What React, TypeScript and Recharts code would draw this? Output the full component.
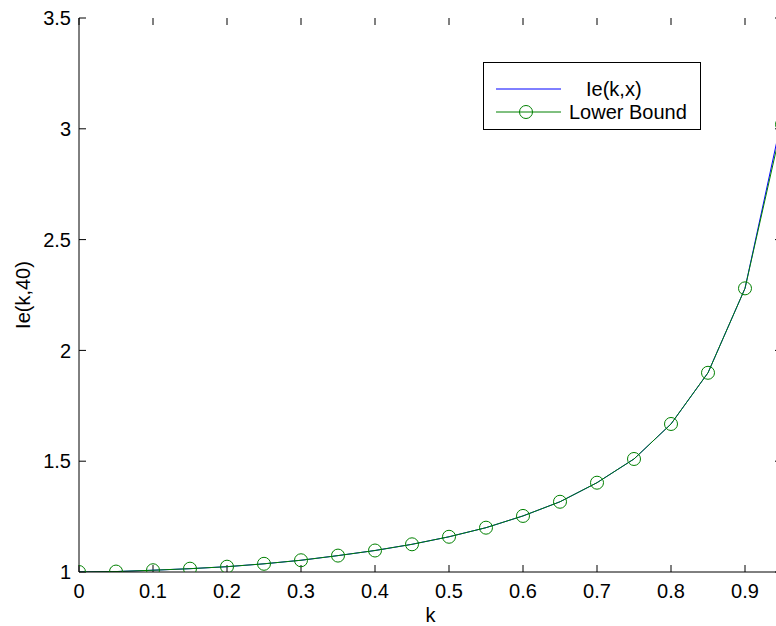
import { LineChart, Line, XAxis, YAxis, Legend, ReferenceLine } from 'recharts'

const kValues = [0, 0.05, 0.1, 0.15, 0.2, 0.25, 0.3, 0.35, 0.4, 0.45, 0.5, 0.55, 0.6, 0.65, 0.7, 0.75, 0.8, 0.85, 0.9, 0.95]
const ieValues = [1.0, 1.002, 1.008, 1.015, 1.024, 1.037, 1.053, 1.074, 1.097, 1.125, 1.159, 1.2, 1.253, 1.317, 1.403, 1.51, 1.668, 1.899, 2.28, 3.05]
const lowerBound = [1.0, 1.002, 1.008, 1.015, 1.024, 1.037, 1.053, 1.074, 1.097, 1.125, 1.159, 1.2, 1.253, 1.317, 1.403, 1.51, 1.668, 1.899, 2.28, 3.02]
const xTicks = [0, 0.1, 0.2, 0.3, 0.4, 0.5, 0.6, 0.7, 0.8, 0.9]
const yTicks = [1, 1.5, 2, 2.5, 3, 3.5]

const data = kValues.map((k, i) => ({ k, ie: ieValues[i], lb: lowerBound[i] }))

const FONT = '"Liberation Sans", Arial, Helvetica, sans-serif'
const BLUE = '#0000ff'
const GREEN = '#008000'

const X_MIN = 0
const X_MAX = 0.95
const Y_MIN = 1
const Y_MAX = 3.5
// plot box is 703 x 554 px; MATLAB-style inward tick marks ~7 px long
const xTickLen = (7 * (X_MAX - X_MIN)) / 703
const yTickLen = (7 * (Y_MAX - Y_MIN)) / 554

// eslint-disable-next-line @typescript-eslint/no-explicit-any
function BottomTick({ x, y, payload }: any) {
  return (
    <text x={x} y={y} dy={14} textAnchor="middle" fontSize={20} fontFamily={FONT} fill="#000">
      {String(payload.value)}
    </text>
  )
}

// eslint-disable-next-line @typescript-eslint/no-explicit-any
function LeftTick({ x, y, payload }: any) {
  return (
    <text x={x} y={y} dy="0.355em" textAnchor="end" fontSize={20} fontFamily={FONT} fill="#000">
      {String(payload.value)}
    </text>
  )
}

function LegendBox() {
  return (
    <div style={{ border: '1px solid #000', background: '#fff', width: 216, height: 66 }}>
      <svg width={216} height={66} style={{ display: 'block' }}>
        <line x1={12} y1={26} x2={77} y2={26} stroke={BLUE} strokeWidth={1} />
        <text x={102} y={33} fontSize={20} fontFamily={FONT} fill="#000">Ie(k,x)</text>
        <line x1={12} y1={49} x2={77} y2={49} stroke={GREEN} strokeWidth={1} />
        <circle cx={42} cy={49} r={6.5} fill="none" stroke={GREEN} strokeWidth={1} />
        <text x={85} y={56} fontSize={20} fontFamily={FONT} fill="#000">Lower Bound</text>
      </svg>
    </div>
  )
}

// eslint-disable-next-line @typescript-eslint/no-explicit-any
function YLabel({ viewBox }: any) {
  const cy = viewBox.y + viewBox.height / 2
  const x = viewBox.x + 22
  return (
    <text x={x} y={cy} transform={`rotate(-90, ${x}, ${cy})`} textAnchor="middle" fontSize={20} fontFamily={FONT} fill="#000">
      Ie(k,40)
    </text>
  )
}

export default function App() {
  return (
    <div style={{ position: 'fixed', left: 0, top: 0, width: 776, height: 626, overflow: 'hidden', background: '#fff' }}>
      <div style={{ position: 'absolute', left: 8, top: 8 }}>
        <LineChart width={800} height={618} data={data} margin={{ top: 10, right: 26, left: 0, bottom: 0 }}>
          <XAxis
            dataKey="k"
            type="number"
            domain={[X_MIN, X_MAX]}
            ticks={xTicks}
            allowDataOverflow
            height={54}
            stroke="#000"
            tickLine={false}
            tickSize={0}
            tickMargin={12}
            tick={(p: any) => <BottomTick {...p} />}
            label={{ value: 'k', position: 'insideBottom', offset: 4, fontSize: 20, fill: '#000', fontFamily: FONT }}
          />
          <XAxis
            xAxisId="top"
            orientation="top"
            dataKey="k"
            type="number"
            domain={[X_MIN, X_MAX]}
            ticks={xTicks}
            allowDataOverflow
            height={0}
            stroke="#000"
            tick={false}
            tickLine={false}
          />
          <YAxis
            type="number"
            domain={[Y_MIN, Y_MAX]}
            ticks={yTicks}
            allowDataOverflow
            width={71}
            stroke="#000"
            tickLine={false}
            tickSize={0}
            tickMargin={8}
            tick={(p: any) => <LeftTick {...p} />}
            label={<YLabel />}
          />
          <YAxis
            yAxisId="right"
            orientation="right"
            type="number"
            domain={[Y_MIN, Y_MAX]}
            ticks={yTicks}
            allowDataOverflow
            width={0}
            stroke="#000"
            tick={false}
            tickLine={false}
          />
          {xTicks.map((t) => (
            <ReferenceLine key={`xb${t}`} segment={[{ x: t, y: Y_MIN }, { x: t, y: Y_MIN + yTickLen }]} stroke="#000" ifOverflow="visible" />
          ))}
          {xTicks.map((t) => (
            <ReferenceLine key={`xt${t}`} segment={[{ x: t, y: Y_MAX }, { x: t, y: Y_MAX - yTickLen }]} stroke="#000" ifOverflow="visible" />
          ))}
          {yTicks.map((t) => (
            <ReferenceLine key={`yl${t}`} segment={[{ x: X_MIN, y: t }, { x: X_MIN + xTickLen, y: t }]} stroke="#000" ifOverflow="visible" />
          ))}
          {yTicks.map((t) => (
            <ReferenceLine key={`yr${t}`} segment={[{ x: X_MAX - xTickLen, y: t }, { x: X_MAX, y: t }]} stroke="#000" ifOverflow="visible" />
          ))}
          <Legend
            layout="vertical"
            align="center"
            verticalAlign="middle"
            wrapperStyle={{ left: 475, top: 54, width: 218 }}
            content={() => <LegendBox />}
          />
          <Line dataKey="ie" stroke={BLUE} strokeWidth={1} dot={false} type="linear" isAnimationActive={false} />
          <Line
            dataKey="lb"
            stroke={GREEN}
            strokeWidth={1}
            type="linear"
            dot={{ r: 6.5, fill: 'none', stroke: GREEN, strokeWidth: 1 }}
            isAnimationActive={false}
          />
        </LineChart>
      </div>
    </div>
  )
}
